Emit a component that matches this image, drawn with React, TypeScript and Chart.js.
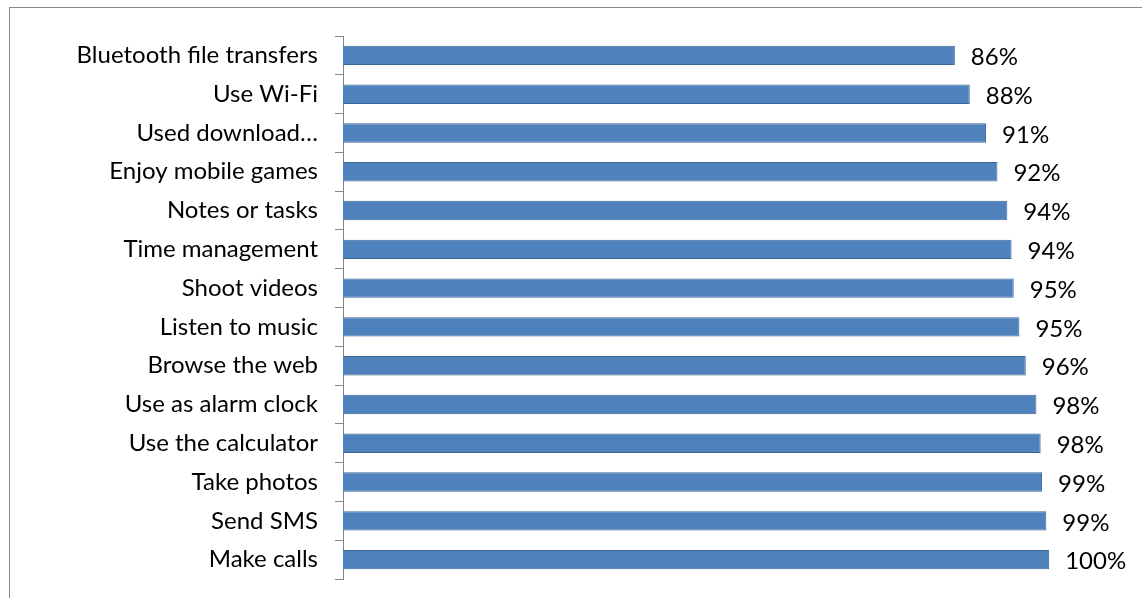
import React, { useEffect, useRef } from "react";
import { Chart, registerables } from "chart.js";

Chart.register(...registerables);

const categories: string[] = [
  "Bluetooth file transfers",
  "Use Wi-Fi",
  "Used download…",
  "Enjoy mobile games",
  "Notes or tasks",
  "Time management",
  "Shoot videos",
  "Listen to music",
  "Browse the web",
  "Use as alarm clock",
  "Use the calculator",
  "Take photos",
  "Send SMS",
  "Make calls",
];

const shareValues: number[] = [86.3, 88.4, 90.7, 92.3, 93.7, 94.3, 94.6, 95.4, 96.3, 97.8, 98.4, 98.6, 99.2, 99.6];

const axisMin = 0;
const axisMax = 100;

const FONT_FAMILY = "Lato, 'Noto Sans', sans-serif";
const FONT_SIZE = 24;

const framePlugin = {
  id: "frame",
  beforeDraw(chart: any) {
    const ctx = chart.ctx;
    ctx.save();
    ctx.fillStyle = "#ffffff";
    ctx.fillRect(0, 0, chart.width, chart.height);
    ctx.strokeStyle = "#878787";
    ctx.lineWidth = 1;
    ctx.strokeRect(9.5, 7.5, 1300, 800);
    ctx.restore();
  },
};

const valueLabelPlugin = {
  id: "valueLabels",
  afterDatasetsDraw(chart: any) {
    const ctx = chart.ctx;
    const meta = chart.getDatasetMeta(0);
    ctx.save();
    ctx.font = `${FONT_SIZE}px ${FONT_FAMILY}`;
    ctx.fillStyle = "#000000";
    ctx.textAlign = "left";
    ctx.textBaseline = "middle";
    meta.data.forEach((bar: any, i: number) => {
      const v = chart.data.datasets[0].data[i] as number;
      ctx.fillText(`${Math.round(v)}%`, bar.x + 16, bar.y + 2);
    });
    ctx.restore();
  },
};

export default function App() {
  const canvasRef = useRef<HTMLCanvasElement | null>(null);

  useEffect(() => {
    if (!canvasRef.current) return;
    const chart = new Chart(canvasRef.current, {
      type: "bar",
      data: {
        labels: categories,
        datasets: [
          {
            data: shareValues,
            backgroundColor: "#4f81bd",
            borderColor: "#3b6699",
            borderWidth: 1,
            barPercentage: 0.5,
            categoryPercentage: 1,
          },
        ],
      },
      options: {
        indexAxis: "y",
        responsive: false,
        animation: false,
        devicePixelRatio: 1,
        layout: { padding: { top: 36, bottom: 19, right: 90, left: 0 } },
        plugins: {
          legend: { display: false },
          tooltip: { enabled: false },
          title: { display: false },
        },
        scales: {
          x: { display: false, min: axisMin, max: axisMax },
          y: {
            afterFit: (scale: any) => {
              scale.width = 343;
              scale.paddingTop = 0;
              scale.paddingBottom = 0;
            },
            grid: {
              display: true,
              drawOnChartArea: false,
              drawTicks: true,
              tickLength: 8,
              color: "#868686",
              offset: true,
            },
            border: { display: true, color: "#868686", width: 1 },
            ticks: {
              padding: 17,
              color: "#000000",
              autoSkip: false,
              font: { family: FONT_FAMILY, size: FONT_SIZE },
            },
          },
        },
      },
      plugins: [framePlugin, valueLabelPlugin],
    });
    return () => chart.destroy();
  }, []);

  return (
    <div style={{ position: "fixed", left: 0, top: 0, width: 1142, height: 598, background: "#fff" }}>
      <canvas ref={canvasRef} width={1142} height={598} style={{ display: "block" }} />
    </div>
  );
}
